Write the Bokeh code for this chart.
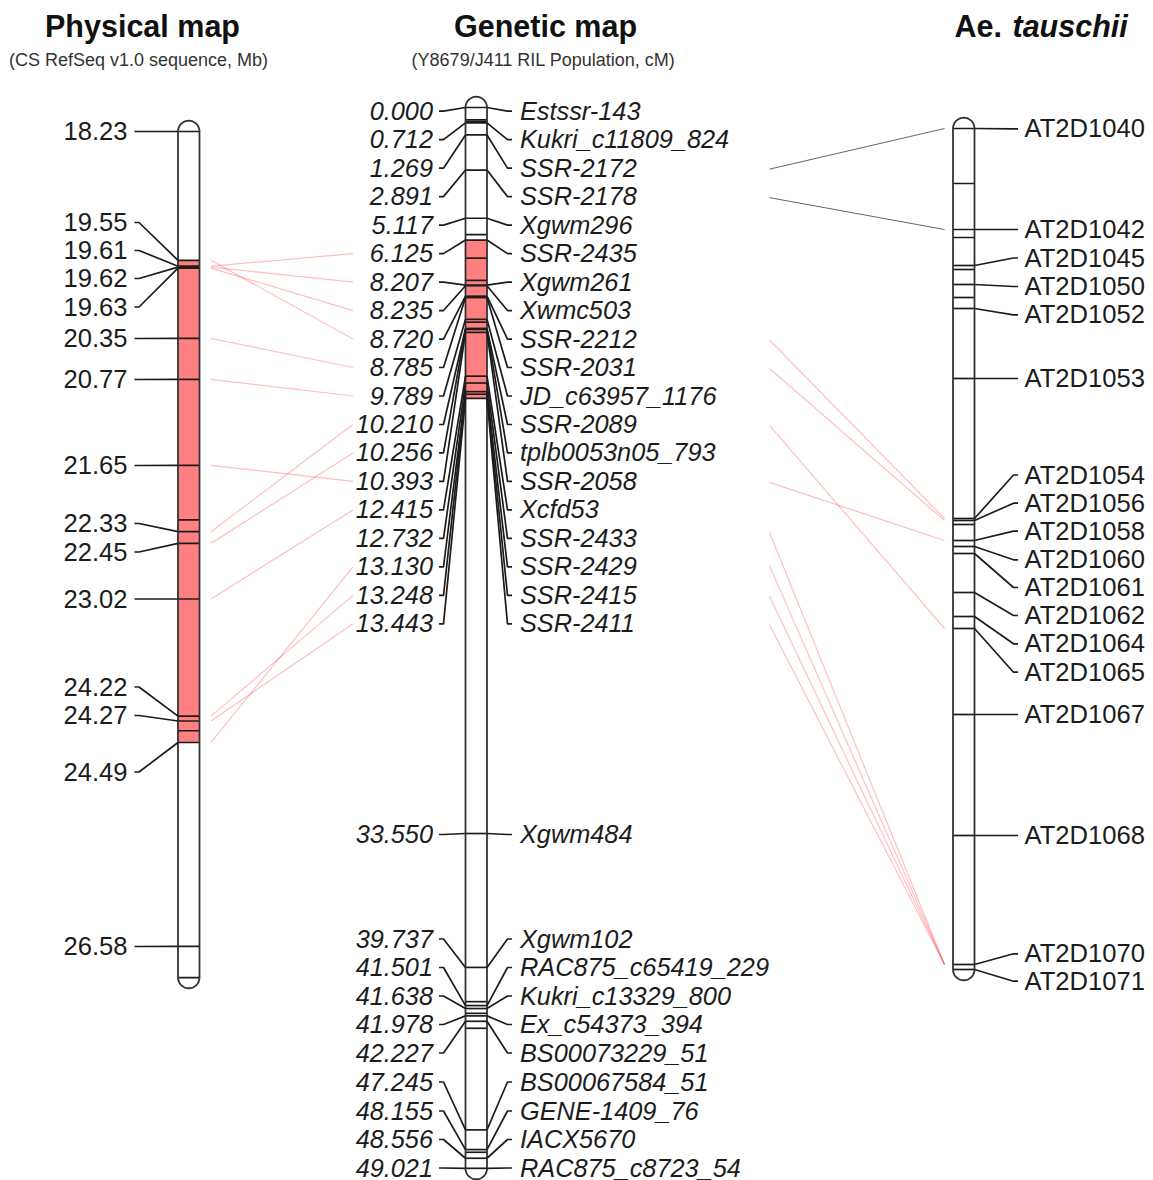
import numpy as np
from bokeh.plotting import figure
from bokeh.models import Range1d
from bokeh.core.properties import value
from bokeh.embed import file_html
from bokeh.resources import INLINE

# ---------- data ----------
phys_values = [18.23, 19.55, 19.61, 19.62, 19.63, 20.35, 20.77, 21.65, 22.33, 22.45, 23.02, 24.22, 24.27, 24.49, 26.58]
phys_unlabeled = [22.21, 24.37, 26.90]
phys_region = [19.55, 24.49]

gen_values = [0.000, 0.712, 1.269, 2.891, 5.117, 6.125, 8.207, 8.235, 8.720, 8.785, 9.789, 10.210, 10.256, 10.393,
              12.415, 12.732, 13.130, 13.248, 13.443, 33.550, 39.737, 41.501, 41.638, 41.978, 42.227, 47.245,
              48.155, 48.556, 49.021]
gen_names = ["Estssr-143", "Kukri_c11809_824", "SSR-2172", "SSR-2178", "Xgwm296", "SSR-2435", "Xgwm261", "Xwmc503",
             "SSR-2212", "SSR-2031", "JD_c63957_1176", "SSR-2089", "tplb0053n05_793", "SSR-2058", "Xcfd53",
             "SSR-2433", "SSR-2429", "SSR-2415", "SSR-2411", "Xgwm484", "Xgwm102", "RAC875_c65419_229",
             "Kukri_c13329_800", "Ex_c54373_394", "BS00073229_51", "BS00067584_51", "GENE-1409_76", "IACX5670",
             "RAC875_c8723_54"]
gen_unlabeled = [0.57, 0.65, 5.87, 6.96, 7.99, 9.92, 41.32, 41.86, 42.55, 48.28]
gen_region = [6.125, 13.443]

tau_names = ["AT2D1040", "AT2D1042", "AT2D1045", "AT2D1050", "AT2D1052", "AT2D1053", "AT2D1054", "AT2D1056",
             "AT2D1058", "AT2D1060", "AT2D1061", "AT2D1062", "AT2D1064", "AT2D1065", "AT2D1067", "AT2D1068",
             "AT2D1070", "AT2D1071"]
tau_values = [0.0, 10.1, 13.7, 15.6, 18.0, 25.0, 39.0, 39.2, 41.2, 41.8, 42.5, 46.4, 48.8, 50.0, 58.6, 70.7, 83.6, 84.1]
tau_unlabeled = [5.5, 10.9, 14.1, 16.9, 39.6]

# links: (physical value, genetic value)
phys_gen_links = [(19.61, 6.125), (19.62, 8.207), (19.63, 8.235), (19.55, 8.720), (20.35, 8.785), (20.77, 9.789),
                  (21.65, 10.393), (22.33, 10.210), (22.45, 10.256), (23.02, 12.415), (24.49, 13.130),
                  (24.22, 13.248), (24.27, 13.443)]
# links: (genetic value, AT2D name)
gen_tau_grey = [(1.269, "AT2D1040"), (2.891, "AT2D1042")]
gen_tau_pink = [(8.720, "AT2D1054"), (8.785, "AT2D1056"), (10.393, "AT2D1058"), (10.210, "AT2D1065"),
                (12.732, "AT2D1070"), (13.130, "AT2D1070"), (13.248, "AT2D1070"), (13.443, "AT2D1070")]

# ---------- layout (page pixels) ----------
W0, W1, H0, H1 = 0, 1153, 0, 1180
FONT = value("Liberation Sans")
INK = "#1c1c1c"
RED = "#ff8080"
LABEL = "25.6px"
LABEL_IT = "25.3px"
TITLE = "30.5px"
SUB = "18px"
phys_scale = (131.0, 97.6, 18.23)     # px at ref, px per unit, ref
gen_scale = (107.0, 21.64, 0.0)
tau_scale = (128.0, 10.0, 0.0)
phys_x = (177.5, 199.0)
gen_x = (465.0, 486.5)
tau_x = (952.5, 974.0)
phys_caps = (131, 977)
gen_caps = (107, 1168)
tau_caps = (128, 969)

phys_label_y = [131, 222, 250, 278, 306.5, 338, 379, 465, 523, 551.5, 598.5, 686.5, 715, 771.5, 946]
gen_label_y = [110.7 + 28.48 * i for i in range(19)] + [834, 938.5, 967, 995.5, 1024, 1052.5, 1081.5, 1110.5, 1139, 1167.5]
tau_label_y = [128.3, 229, 257.5, 286, 314.3, 378, 474.5, 502.7, 530.7, 559.3, 587, 615, 643.3, 671.7, 714, 835, 953.3, 980.7]
TEXT_DY = -0.5
LINK_START_DY = {12.732: -7.0, 13.130: -2.0}


def val(scale, px):
    y0, k, ref = scale
    return ref + (px - y0) / k


def yr(scale):
    return Range1d(start=val(scale, H1), end=val(scale, H0))


p = figure(width=W1 - W0, height=H1 - H0, x_range=Range1d(W0, W1), y_range=Range1d(H1, H0),
           output_backend="svg", toolbar_location=None, min_border=0, outline_line_color=None,
           background_fill_color="white", border_fill_color="white")
p.min_border_left = p.min_border_right = p.min_border_top = p.min_border_bottom = 0
p.axis.visible = False
p.grid.visible = False
p.extra_y_ranges = {"phys": yr(phys_scale), "gen": yr(gen_scale), "tau": yr(tau_scale)}


def chromosome(x, caps, scale, name, region, rungs):
    xl, xr = x
    r = (xr - xl) / 2
    xc = (xl + xr) / 2
    if region is not None:
        p.quad(left=xl, right=xr, top=region[0], bottom=region[1], y_range_name=name,
               fill_color=RED, line_color=None)
    p.multi_line(xs=[[xl, xr] for _ in rungs], ys=[[v, v] for v in rungs], y_range_name=name,
                 line_color=INK, line_width=1.7)
    t = np.linspace(np.pi, 0, 40)
    px = np.concatenate([xc + r * np.cos(t), xc - r * np.cos(t)])
    py = np.concatenate([caps[0] - r * np.sin(t), caps[1] + r * np.sin(t)])
    p.line(list(px) + [px[0]], list(py) + [py[0]], line_color="#333333", line_width=1.8)


chromosome(phys_x, phys_caps, phys_scale, "phys", phys_region, phys_values + phys_unlabeled)
chromosome(gen_x, gen_caps, gen_scale, "gen", gen_region, gen_values + gen_unlabeled)
chromosome(tau_x, tau_caps, tau_scale, "tau", None, tau_values + tau_unlabeled)


def connectors(values, label_y, scale, name, edge, outer, step):
    xs, ys = [], []
    for v, ly in zip(values, label_y):
        lv = val(scale, ly)
        xs.append([outer, outer + step, edge])
        ys.append([lv, lv, v])
    p.multi_line(xs=xs, ys=ys, y_range_name=name, line_color=INK, line_width=1.7)


connectors(phys_values, phys_label_y, phys_scale, "phys", phys_x[0], 134, 4.5)
connectors(gen_values, gen_label_y, gen_scale, "gen", gen_x[0], 438.5, 4.5)
connectors(gen_values, gen_label_y, gen_scale, "gen", gen_x[1], 511.5, -4.5)
connectors(tau_values, tau_label_y, tau_scale, "tau", tau_x[1], 1017.5, -4.5)


def labels(x, y, txt, align, style="normal", size=LABEL, color=INK):
    p.text(x=x, y=y, text=txt, text_font=FONT, text_font_size=size, text_font_style=style,
           text_align=align, text_baseline="middle", text_color=color)


labels([127] * len(phys_values), [y + TEXT_DY for y in phys_label_y], [f"{v:.2f}" for v in phys_values], "right")
labels([432.5] * len(gen_values), [y + TEXT_DY for y in gen_label_y], [f"{v:.3f}" for v in gen_values], "right", "italic", LABEL_IT)
labels([519.5] * len(gen_names), [y + TEXT_DY for y in gen_label_y], gen_names, "left", "italic", LABEL_IT)
labels([1024] * len(tau_names), [y + TEXT_DY for y in tau_label_y], tau_names, "left")

# ---------- comparative links ----------
gen_y_px = dict(zip(gen_values, gen_label_y))
tau_y = dict(zip(tau_names, tau_values))
xs, ys = [], []
for a, b in phys_gen_links:
    xs.append([210.5, 352.5])
    ys.append([a, val(phys_scale, gen_y_px[b])])
p.multi_line(xs=xs, ys=ys, y_range_name="phys", line_color="#ff0000", line_alpha=0.25, line_width=1.2)


def tau_links(links, **kw):
    xs, ys = [], []
    for g, t in links:
        xs.append([769, 944])
        ys.append([val(tau_scale, gen_y_px[g] + 1 + LINK_START_DY.get(g, 0)), tau_y[t]])
    p.multi_line(xs=xs, ys=ys, y_range_name="tau", **kw)


tau_links(gen_tau_grey, line_color="#333333", line_alpha=0.85, line_width=0.9)
tau_links(gen_tau_pink, line_color="#ff0000", line_alpha=0.25, line_width=1.2)

# ---------- titles ----------
labels([142], [25.5], ["Physical map"], "center", "bold", TITLE, "#111111")
labels([138], [59.5], ["(CS RefSeq v1.0 sequence, Mb)"], "center", "normal", SUB, "#333333")
labels([545], [25.5], ["Genetic map"], "center", "bold", TITLE, "#111111")
labels([543], [59.5], ["(Y8679/J411 RIL Population, cM)"], "center", "normal", SUB, "#333333")
labels([954], [25.5], ["Ae."], "left", "bold", TITLE, "#111111")
labels([1012], [25.5], ["tauschii"], "left", "bold italic", TITLE, "#111111")

open("out.html", "w").write(file_html(p, INLINE))
